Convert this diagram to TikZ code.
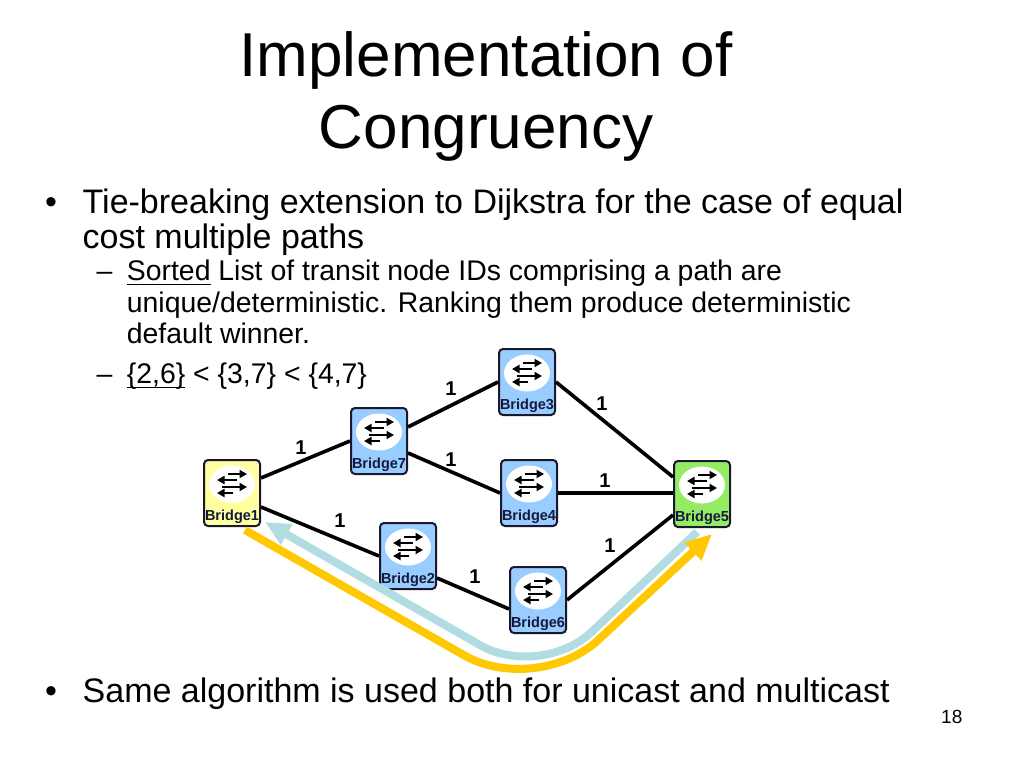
\documentclass[tikz,border=0pt]{standalone}
\usepackage{fontspec}
\setmainfont{Liberation Sans}
\usetikzlibrary{arrows.meta,calc}
\definecolor{boxblue}{RGB}{153,204,255}
\definecolor{boxyellow}{RGB}{255,255,160}
\definecolor{boxgreen}{RGB}{150,235,100}
\definecolor{boxline}{RGB}{25,25,45}
\definecolor{labelnavy}{RGB}{20,25,60}
\definecolor{pathblue}{RGB}{176,220,226}
\definecolor{pathgold}{RGB}{255,200,0}
\newcommand\myul[1]{\setbox0\hbox{#1}\rlap{\rule[-5pt]{\wd0}{1.4pt}}\box0\relax}
\newcommand\mkbridge[5]{%
  \node[bridgebox, fill=#4] (#1) at (#2,#3) {};
  \fill[white] ($(#1.center)+(0,-9)$) ellipse [x radius=23, y radius=18.5];
  \draw[iconarrow] ($(#1.center)+(-4,-19)$) -- ($(#1.center)+(15,-19)$);
  \draw[iconarrow] ($(#1.center)+(5,-13)$) -- ($(#1.center)+(-15,-13)$);
  \draw[iconarrow] ($(#1.center)+(-10,-6)$) -- ($(#1.center)+(15,-6)$);
  \draw[iconarrow] ($(#1.center)+(1,0)$) -- ($(#1.center)+(-15,0)$);
  \node[bridgelabel] (#1lab) at ($(#1.south)+(0,-6.5)$) {#5};
}
\begin{document}
\begin{tikzpicture}[x=1pt,y=-1pt,
  bridgebox/.style={draw=boxline, line width=2pt, rounded corners=4pt, minimum width=56pt, minimum height=66pt, inner sep=0pt},
  bridgelabel/.style={font=\bfseries\fontsize{14.5}{14.5}\selectfont, text=labelnavy, anchor=base, inner sep=0pt},
  iconarrow/.style={line width=2.6pt, -{Triangle[length=7.5pt,width=8pt]}},
  link/.style={line width=3.6pt, black},
  cost/.style={font=\bfseries\fontsize{20}{20}\selectfont, inner sep=0pt},
  bodytext/.style={anchor=base west, inner sep=0pt, font=\fontsize{34}{40}\selectfont},
  subtext/.style={anchor=base west, inner sep=0pt, font=\fontsize{28.4}{34}\selectfont},
  titletext/.style={anchor=base, inner sep=0pt, font=\fontsize{62}{70}\selectfont},
  pathline/.style={line width=8pt}
]
\useasboundingbox (0,0) rectangle (1024,768);
\fill[white] (0,0) rectangle (1024,768);

% title
\node[titletext] (title1) at (486,77) {Implementation of};
\node[titletext] (title2) at (486,148) {Congruency};

% body text
\node[bodytext] (bul1) at (45,213) {•};
\node[bodytext] (t1a) at (82.5,213) {Tie-breaking extension to Dijkstra for the case of equal};
\node[bodytext] (t1b) at (82.5,248) {cost multiple paths};
\node[subtext] (d1) at (96.5,280) {–};
\node[subtext] (s1a) at (126.7,280) {\myul{Sorted} List of transit node IDs comprising a path are};
\node[subtext] (s1b) at (126.7,312) {unique/deterministic. Ranking them produce deterministic};
\node[subtext] (s1c) at (126.7,343) {default winner.};
\node[subtext] (d2) at (96.5,383) {–};
\node[subtext] (s2) at (126.7,383) {\myul{\{2,6\}} < \{3,7\} < \{4,7\}};
\node[bodytext] (bul2) at (45,702) {•};
\node[bodytext] (t2) at (82.5,702) {Same algorithm is used both for unicast and multicast};
\node[anchor=base west, inner sep=0pt, font=\fontsize{19}{19}\selectfont] (pg) at (941,723) {18};

% bridges
\mkbridge{b1}{232}{493}{boxyellow}{Bridge1}
\mkbridge{b7}{379}{441}{boxblue}{Bridge7}
\mkbridge{b3}{527}{382}{boxblue}{Bridge3}
\mkbridge{b4}{529}{493}{boxblue}{Bridge4}
\mkbridge{b5}{702}{494}{boxgreen}{Bridge5}
\mkbridge{b2}{408}{556}{boxblue}{Bridge2}
\mkbridge{b6}{538}{600}{boxblue}{Bridge6}

% links
\draw[link] ([yshift=15pt]b1.east) -- (b7.west);
\draw[link] ([yshift=14pt]b7.east) -- (b3.west);
\draw[link] (b3.east) -- ([yshift=17pt]b5.west);
\draw[link] ([yshift=-12pt]b7.east) -- (b4.west);
\draw[link] (b4.east) -- (b4.east -| b5.west);
\draw[link] ([yshift=-14pt]b1.east) -- (b2.west);
\draw[link] ([yshift=-22pt]b2.east) -- ([yshift=-9pt]b6.west);
\draw[link] (b6.east) -- ([yshift=-21pt]b5.west);

% costs
\node[cost] (c1) at (301,448) {1};
\node[cost] (c2) at (451,389) {1};
\node[cost] (c3) at (602,404) {1};
\node[cost] (c4) at (451,460) {1};
\node[cost] (c5) at (605,481) {1};
\node[cost] (c6) at (340,521) {1};
\node[cost] (c7) at (475,577) {1};
\node[cost] (c8) at (610,546) {1};

% paths
\coordinate (bs) at ($(b5.south)+(-5,4)$);
\coordinate (bc) at (541,680);
\coordinate (bt) at ($(b1.south east)+(4,-5)$);
\coordinate (gs) at ($(b1.south)+(13,3)$);
\coordinate (gc) at (537,697);
\coordinate (gt) at ($(b5.south)+(10,6)$);
\draw[pathline, pathblue, rounded corners=70pt, -{Triangle[length=25pt,width=22pt]}] (bs) -- (bc) -- (bt);
\draw[pathline, pathgold, rounded corners=84pt, -{Triangle[length=26pt,width=23pt]}] (gs) -- (gc) -- (gt);
\end{tikzpicture}
\end{document}
